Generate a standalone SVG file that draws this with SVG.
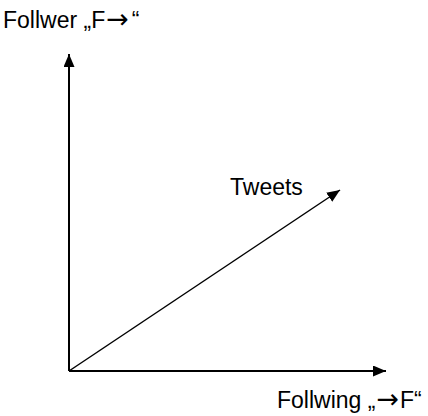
<svg xmlns="http://www.w3.org/2000/svg" width="428" height="416" viewBox="0 0 428 416">
<style>
text{font-family:"Liberation Sans",Arial,sans-serif;font-size:23px;fill:#000}
.arr{font-family:"DejaVu Sans",sans-serif;font-size:27px}
.ax{stroke:#000;stroke-width:2;fill:none}
.tw{stroke:#000;stroke-width:1.5;fill:none}
</style>
<defs>
<marker id="ah" markerWidth="13" markerHeight="11" refX="13" refY="5.5" orient="auto" markerUnits="userSpaceOnUse">
<path d="M0,0 L13,5.5 L0,11 Z" fill="#000"/>
</marker>
</defs>
<rect width="428" height="416" fill="#fff"/>
<g id="connectors">
<line class="ax" x1="69" y1="371" x2="69" y2="54" marker-end="url(#ah)"/>
<line class="ax" x1="69" y1="371" x2="386" y2="371" marker-end="url(#ah)"/>
<line class="tw" x1="69" y1="371" x2="340" y2="190" marker-end="url(#ah)"/>
</g>
<g id="yaxis-label">
<text x="3" y="28">Follwer „F<tspan class="arr" dx="1">→</tspan><tspan dx="3">“</tspan></text>
</g>
<g id="tweets-label"><text x="230" y="195">Tweets</text></g>
<g id="xaxis-label">
<text x="277" y="408">Follwing „<tspan class="arr" dx="1">→</tspan><tspan dx="1">F“</tspan></text>
</g>
</svg>
